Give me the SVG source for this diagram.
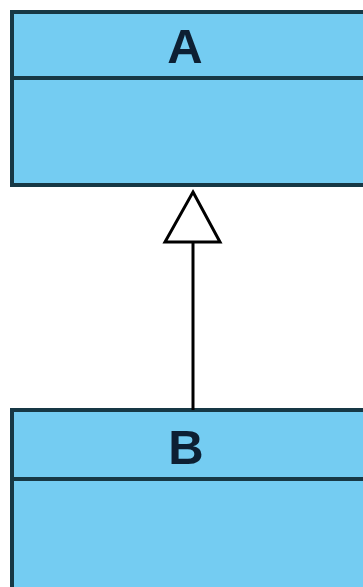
<svg xmlns="http://www.w3.org/2000/svg" width="363" height="587" viewBox="0 0 363 587">
<style>
.box{fill:#74ccf2;stroke:#173845;stroke-width:4}
.div{stroke:#173845;stroke-width:4}
.lbl{font-family:"Liberation Sans",Arial,sans-serif;font-weight:bold;font-size:49px;fill:#0d1f33;text-anchor:middle}
.conn{stroke:#000;stroke-width:3;fill:none}
</style>
<rect width="363" height="587" fill="#fff"/>
<g id="A">
<rect class="box" x="12" y="12" width="360" height="173"/>
<line class="div" x1="12" y1="78" x2="372" y2="78"/>
<text class="lbl" x="185" y="63">A</text>
</g>
<g id="B">
<rect class="box" x="12" y="410" width="360" height="190"/>
<line class="div" x1="12" y1="479" x2="372" y2="479"/>
<text class="lbl" x="186" y="464">B</text>
</g>
<g id="connectors">
<line class="conn" x1="193" y1="410" x2="193" y2="242"/>
<polygon class="conn" points="193,192 220,242 165,242" style="fill:#fff"/>
</g>
</svg>
